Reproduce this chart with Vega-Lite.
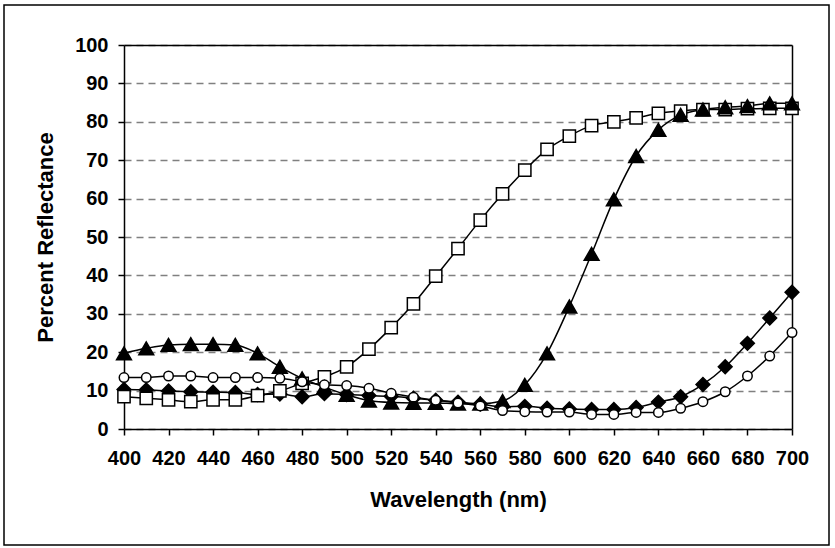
{
  "$schema": "https://vega.github.io/schema/vega-lite/v6.json",
  "autosize": "none",
  "width": 825,
  "height": 540,
  "padding": {"left": 4, "top": 5, "right": 6, "bottom": 3},
  "background": "white",
  "config": {
    "view": {"stroke": "black", "strokeWidth": 1.5},
    "font": "Liberation Sans",
    "axis": {
      "labelFont": "Liberation Sans", "labelFontSize": 20, "labelFontWeight": "bold", "labelColor": "black",
      "titleFont": "Liberation Sans", "titleFontSize": 22, "titleFontWeight": "bold", "titleColor": "black",
      "domainColor": "black", "domainWidth": 1.5, "tickColor": "black", "tickWidth": 1.5, "tickSize": 6
    }
  },
  "data": {"values": [
    {"series": "Reactive Black", "wl": 400, "r": 10.3}, {"series": "Reactive Black", "wl": 410, "r": 10.2}, {"series": "Reactive Black", "wl": 420, "r": 9.9}, {"series": "Reactive Black", "wl": 430, "r": 9.7}, {"series": "Reactive Black", "wl": 440, "r": 9.6}, {"series": "Reactive Black", "wl": 450, "r": 9.5}, {"series": "Reactive Black", "wl": 460, "r": 9.0}, {"series": "Reactive Black", "wl": 470, "r": 9.1}, {"series": "Reactive Black", "wl": 480, "r": 8.4}, {"series": "Reactive Black", "wl": 490, "r": 9.2}, {"series": "Reactive Black", "wl": 500, "r": 9.0}, {"series": "Reactive Black", "wl": 510, "r": 8.7}, {"series": "Reactive Black", "wl": 520, "r": 8.5}, {"series": "Reactive Black", "wl": 530, "r": 8.0}, {"series": "Reactive Black", "wl": 540, "r": 7.5}, {"series": "Reactive Black", "wl": 550, "r": 7.0}, {"series": "Reactive Black", "wl": 560, "r": 6.5}, {"series": "Reactive Black", "wl": 570, "r": 5.8}, {"series": "Reactive Black", "wl": 580, "r": 5.9}, {"series": "Reactive Black", "wl": 590, "r": 5.4}, {"series": "Reactive Black", "wl": 600, "r": 5.2}, {"series": "Reactive Black", "wl": 610, "r": 5.1}, {"series": "Reactive Black", "wl": 620, "r": 5.1}, {"series": "Reactive Black", "wl": 630, "r": 5.6}, {"series": "Reactive Black", "wl": 640, "r": 7.0}, {"series": "Reactive Black", "wl": 650, "r": 8.4}, {"series": "Reactive Black", "wl": 660, "r": 11.6}, {"series": "Reactive Black", "wl": 670, "r": 16.2}, {"series": "Reactive Black", "wl": 680, "r": 22.3}, {"series": "Reactive Black", "wl": 690, "r": 28.9}, {"series": "Reactive Black", "wl": 700, "r": 35.6},
    {"series": "Reactive Yellow\u00a0 176", "wl": 400, "r": 8.4}, {"series": "Reactive Yellow\u00a0 176", "wl": 410, "r": 8.0}, {"series": "Reactive Yellow\u00a0 176", "wl": 420, "r": 7.6}, {"series": "Reactive Yellow\u00a0 176", "wl": 430, "r": 7.1}, {"series": "Reactive Yellow\u00a0 176", "wl": 440, "r": 7.6}, {"series": "Reactive Yellow\u00a0 176", "wl": 450, "r": 7.6}, {"series": "Reactive Yellow\u00a0 176", "wl": 460, "r": 8.7}, {"series": "Reactive Yellow\u00a0 176", "wl": 470, "r": 9.9}, {"series": "Reactive Yellow\u00a0 176", "wl": 480, "r": 11.9}, {"series": "Reactive Yellow\u00a0 176", "wl": 490, "r": 13.6}, {"series": "Reactive Yellow\u00a0 176", "wl": 500, "r": 16.2}, {"series": "Reactive Yellow\u00a0 176", "wl": 510, "r": 20.8}, {"series": "Reactive Yellow\u00a0 176", "wl": 520, "r": 26.4}, {"series": "Reactive Yellow\u00a0 176", "wl": 530, "r": 32.6}, {"series": "Reactive Yellow\u00a0 176", "wl": 540, "r": 39.8}, {"series": "Reactive Yellow\u00a0 176", "wl": 550, "r": 47.0}, {"series": "Reactive Yellow\u00a0 176", "wl": 560, "r": 54.4}, {"series": "Reactive Yellow\u00a0 176", "wl": 570, "r": 61.2}, {"series": "Reactive Yellow\u00a0 176", "wl": 580, "r": 67.4}, {"series": "Reactive Yellow\u00a0 176", "wl": 590, "r": 72.8}, {"series": "Reactive Yellow\u00a0 176", "wl": 600, "r": 76.3}, {"series": "Reactive Yellow\u00a0 176", "wl": 610, "r": 79.0}, {"series": "Reactive Yellow\u00a0 176", "wl": 620, "r": 80.0}, {"series": "Reactive Yellow\u00a0 176", "wl": 630, "r": 81.0}, {"series": "Reactive Yellow\u00a0 176", "wl": 640, "r": 82.2}, {"series": "Reactive Yellow\u00a0 176", "wl": 650, "r": 82.8}, {"series": "Reactive Yellow\u00a0 176", "wl": 660, "r": 83.2}, {"series": "Reactive Yellow\u00a0 176", "wl": 670, "r": 83.2}, {"series": "Reactive Yellow\u00a0 176", "wl": 680, "r": 83.4}, {"series": "Reactive Yellow\u00a0 176", "wl": 690, "r": 83.5}, {"series": "Reactive Yellow\u00a0 176", "wl": 700, "r": 83.5},
    {"series": "Reactive Red 180", "wl": 400, "r": 19.7}, {"series": "Reactive Red 180", "wl": 410, "r": 21.0}, {"series": "Reactive Red 180", "wl": 420, "r": 21.9}, {"series": "Reactive Red 180", "wl": 430, "r": 22.1}, {"series": "Reactive Red 180", "wl": 440, "r": 22.1}, {"series": "Reactive Red 180", "wl": 450, "r": 21.9}, {"series": "Reactive Red 180", "wl": 460, "r": 19.7}, {"series": "Reactive Red 180", "wl": 470, "r": 16.2}, {"series": "Reactive Red 180", "wl": 480, "r": 13.2}, {"series": "Reactive Red 180", "wl": 490, "r": 10.9}, {"series": "Reactive Red 180", "wl": 500, "r": 8.9}, {"series": "Reactive Red 180", "wl": 510, "r": 7.4}, {"series": "Reactive Red 180", "wl": 520, "r": 6.9}, {"series": "Reactive Red 180", "wl": 530, "r": 6.8}, {"series": "Reactive Red 180", "wl": 540, "r": 6.8}, {"series": "Reactive Red 180", "wl": 550, "r": 6.6}, {"series": "Reactive Red 180", "wl": 560, "r": 6.6}, {"series": "Reactive Red 180", "wl": 570, "r": 7.3}, {"series": "Reactive Red 180", "wl": 580, "r": 11.5}, {"series": "Reactive Red 180", "wl": 590, "r": 19.7}, {"series": "Reactive Red 180", "wl": 600, "r": 31.9}, {"series": "Reactive Red 180", "wl": 610, "r": 45.6}, {"series": "Reactive Red 180", "wl": 620, "r": 59.8}, {"series": "Reactive Red 180", "wl": 630, "r": 71.1}, {"series": "Reactive Red 180", "wl": 640, "r": 77.9}, {"series": "Reactive Red 180", "wl": 650, "r": 81.8}, {"series": "Reactive Red 180", "wl": 660, "r": 83.2}, {"series": "Reactive Red 180", "wl": 670, "r": 83.8}, {"series": "Reactive Red 180", "wl": 680, "r": 84.1}, {"series": "Reactive Red 180", "wl": 690, "r": 84.8}, {"series": "Reactive Red 180", "wl": 700, "r": 84.8},
    {"series": "Reactive Blue 171", "wl": 400, "r": 13.4}, {"series": "Reactive Blue 171", "wl": 410, "r": 13.4}, {"series": "Reactive Blue 171", "wl": 420, "r": 13.8}, {"series": "Reactive Blue 171", "wl": 430, "r": 13.8}, {"series": "Reactive Blue 171", "wl": 440, "r": 13.4}, {"series": "Reactive Blue 171", "wl": 450, "r": 13.4}, {"series": "Reactive Blue 171", "wl": 460, "r": 13.4}, {"series": "Reactive Blue 171", "wl": 470, "r": 13.2}, {"series": "Reactive Blue 171", "wl": 480, "r": 12.3}, {"series": "Reactive Blue 171", "wl": 490, "r": 11.5}, {"series": "Reactive Blue 171", "wl": 500, "r": 11.3}, {"series": "Reactive Blue 171", "wl": 510, "r": 10.6}, {"series": "Reactive Blue 171", "wl": 520, "r": 9.3}, {"series": "Reactive Blue 171", "wl": 530, "r": 8.3}, {"series": "Reactive Blue 171", "wl": 540, "r": 7.5}, {"series": "Reactive Blue 171", "wl": 550, "r": 6.8}, {"series": "Reactive Blue 171", "wl": 560, "r": 6.0}, {"series": "Reactive Blue 171", "wl": 570, "r": 4.8}, {"series": "Reactive Blue 171", "wl": 580, "r": 4.5}, {"series": "Reactive Blue 171", "wl": 590, "r": 4.4}, {"series": "Reactive Blue 171", "wl": 600, "r": 4.4}, {"series": "Reactive Blue 171", "wl": 610, "r": 3.8}, {"series": "Reactive Blue 171", "wl": 620, "r": 3.8}, {"series": "Reactive Blue 171", "wl": 630, "r": 4.3}, {"series": "Reactive Blue 171", "wl": 640, "r": 4.3}, {"series": "Reactive Blue 171", "wl": 650, "r": 5.4}, {"series": "Reactive Blue 171", "wl": 660, "r": 7.1}, {"series": "Reactive Blue 171", "wl": 670, "r": 9.7}, {"series": "Reactive Blue 171", "wl": 680, "r": 13.8}, {"series": "Reactive Blue 171", "wl": 690, "r": 19.0}, {"series": "Reactive Blue 171", "wl": 700, "r": 25.1}
  ]},
  "resolve": {"axis": {"x": "independent", "y": "independent"}},
  "layer": [
    {
      "mark": {"type": "line", "interpolate": "monotone", "color": "black", "strokeWidth": 1.5},
      "encoding": {
        "x": {"field": "wl", "type": "quantitative",
              "scale": {"domain": [400, 700], "range": [120, 788], "nice": false, "zero": false},
              "axis": {"orient": "bottom", "offset": -116, "values": [400,420,440,460,480,500,520,540,560,580,600,620,640,660,680,700],
                       "grid": false, "labelPadding": 13, "title": "Wavelength (nm)", "titlePadding": 21, "labelFlush": false, "labelOverlap": false}},
        "y": {"field": "r", "type": "quantitative",
              "scale": {"domain": [0, 100], "range": [424, 40], "nice": false, "zero": false},
              "axis": {"orient": "left", "offset": -120, "values": [0,10,20,30,40,50,60,70,80,90,100],
                       "grid": true, "gridColor": "#808080", "gridDash": [7, 5], "gridWidth": 1.5,
                       "labelPadding": 10, "title": "Percent Reflectance", "titlePadding": 17, "labelFlush": false, "labelOverlap": false}},
        "detail": {"field": "series", "type": "nominal"},
        "order": {"field": "wl", "type": "quantitative"}
      }
    },
    {
      "mark": {"type": "point", "filled": true, "stroke": "black", "strokeWidth": 1.5, "opacity": 1},
      "encoding": {
        "x": {"field": "wl", "type": "quantitative",
              "axis": {"orient": "top", "offset": -40, "labels": false, "ticks": false, "grid": false, "title": null, "domainColor": "black", "domainWidth": 1.5}},
        "y": {"field": "r", "type": "quantitative",
              "axis": {"orient": "right", "offset": -37, "labels": false, "ticks": false, "grid": false, "title": null, "domainColor": "black", "domainWidth": 1.5}},
        "size": {"condition": [
                   {"test": "datum.series === 'Reactive Blue 171'", "value": 90},
                   {"test": "datum.series === 'Reactive Red 180'", "value": 220},
                   {"test": "datum.series === 'Reactive Black'", "value": 190}
                 ], "value": 150},
        "shape": {"field": "series", "type": "nominal",
                  "scale": {"domain": ["Reactive Black", "Reactive Yellow\u00a0 176", "Reactive Red 180", "Reactive Blue 171"], "range": ["diamond", "square", "triangle-up", "circle"]},
                  "legend": null},
        "fill": {"field": "series", "type": "nominal",
                 "scale": {"domain": ["Reactive Black", "Reactive Yellow\u00a0 176", "Reactive Red 180", "Reactive Blue 171"], "range": ["black", "white", "black", "white"]},
                 "legend": {"title": null, "orient": "none", "legendX": 99, "legendY": 57, "direction": "vertical",
                             "padding": 9, "rowPadding": 16.5, "symbolSize": 100, "labelOffset": 38.5,
                             "labelFont": "Liberation Sans", "labelFontSize": 21, "labelColor": "black", "labelLimit": 400,
                             "strokeColor": "black", "fillColor": "white", "symbolStrokeColor": "black", "symbolStrokeWidth": 1.5,
                             "encode": {
                               "legend": {"strokeWidth": {"value": 1.5}},
                               "symbols": {"stroke": {"value": "black"}, "strokeWidth": {"value": 1.5},
                                           "shape": {"value": {"expr": "datum.index === 0 ? 'M-2.15,0H8.85M3.25,-1.15L4.4,0L3.25,1.15L2.1,0Z' : datum.index === 1 ? 'M-2.15,0H8.85M2.45,-0.8H4.05V0.8H2.45Z' : datum.index === 2 ? 'M-2.15,0H8.85M3.25,-1.05L4.45,0.95H2.05Z' : 'M-2.15,0H8.85M4.05,0A0.8,0.8,0,1,1,2.45,0A0.8,0.8,0,1,1,4.05,0Z'"}}}
                             }}}
      }
    }
  ]
}
